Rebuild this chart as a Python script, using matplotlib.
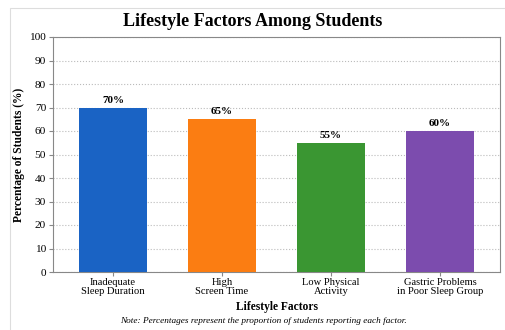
import matplotlib
matplotlib.use("Agg")
import matplotlib.pyplot as plt
from matplotlib.patches import Rectangle

categories = ["Inadequate\nSleep Duration", "High\nScreen Time", "Low Physical\nActivity", "Gastric Problems\nin Poor Sleep Group"]
values = [70, 65, 55, 60]
colors = ["#1a63c4", "#fb7d12", "#3a9632", "#7c4cae"]
yticks = list(range(0, 101, 10))

plt.rcParams['font.family'] = ['Liberation Serif', 'DejaVu Serif']

fig = plt.figure(figsize=(5.06, 3.30), dpi=100)
ax = fig.add_axes([53/506, 1-272/330, 447/506, 235/330])

x = list(range(len(categories)))
bars = ax.bar(x, values, width=0.62, color=colors, zorder=3)
for xi, v in zip(x, values):
    ax.text(xi, v + 1.2, f"{v}%", ha='center', va='bottom', fontsize=8, fontweight='bold', zorder=4)

ax.set_xlim(-0.55, 3.55)
ax.set_ylim(0, 100)
ax.set_yticks(yticks)
ax.set_xticks(x)
ax.set_xticklabels(categories, fontsize=7.6, linespacing=0.9)
ax.tick_params(axis='y', labelsize=8.2, length=3, color='#888888', pad=2)
ax.tick_params(axis='x', length=3, color='#888888', pad=1.5)
ax.yaxis.grid(True, linestyle=':', color='#bbbbbb', linewidth=0.8, zorder=0)
for s in ax.spines.values():
    s.set_color('#888888')
    s.set_linewidth(0.8)

ax.set_ylabel("Percentage of Students (%)", fontsize=8.3, fontweight='bold', labelpad=3)
ax.set_xlabel("Lifestyle Factors", fontsize=8.3, fontweight='bold', labelpad=4)
fig.text(0.5, 1-22/330, "Lifestyle Factors Among Students", ha='center', va='center',
         fontsize=13, fontweight='bold')
fig.text(0.52, 1-321/330, "Note: Percentages represent the proportion of students reporting each factor.",
         ha='center', va='center', fontsize=6.7, style='italic')

fig.patches.append(Rectangle((10/506, -0.1), 1.2, (330-8)/330 + 0.1, transform=fig.transFigure,
                             fill=False, edgecolor='#dddddd', linewidth=0.8))

fig.savefig("out.png", dpi=100)
